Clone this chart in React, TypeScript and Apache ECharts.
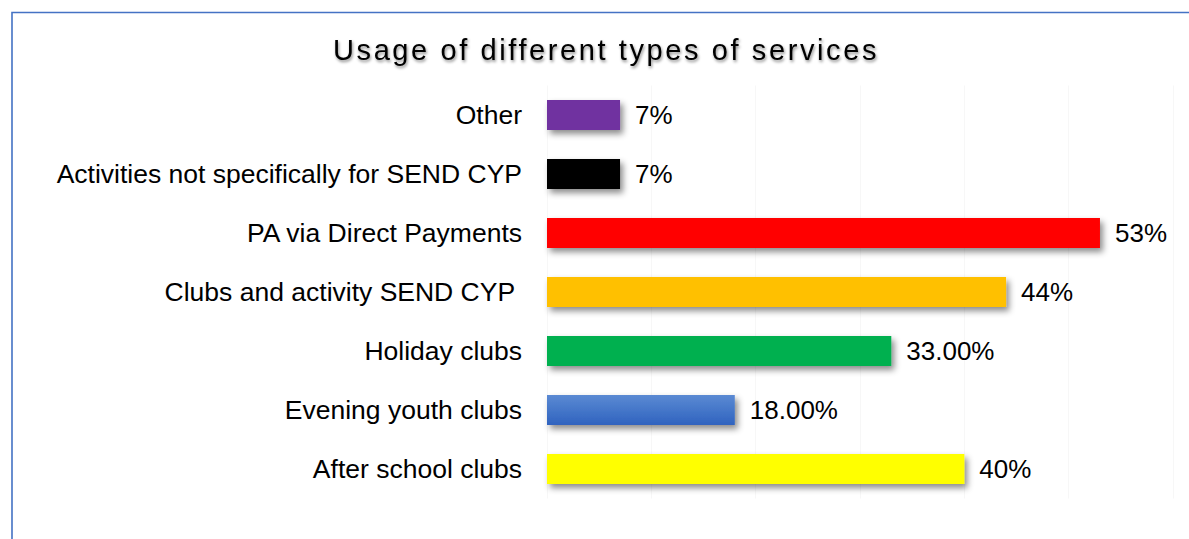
import React, { useEffect, useRef } from "react";
import * as echarts from "echarts";

const TITLE = "Usage of different types of services";
const categories = [
  "Other",
  "Activities not specifically for SEND CYP",
  "PA via Direct Payments",
  "Clubs and activity SEND CYP ",
  "Holiday clubs",
  "Evening youth clubs",
  "After school clubs",
];
const values = [7, 7, 53, 44, 33, 18, 40];
const valueLabels = ["7%", "7%", "53%", "44%", "33.00%", "18.00%", "40%"];
const barColors: any[] = [
  "#7030A0",
  "#000000",
  "#FF0000",
  "#FFC000",
  "#00B050",
  new echarts.graphic.LinearGradient(0, 0, 0, 1, [
    { offset: 0, color: "#5b8ad3" },
    { offset: 1, color: "#2f63bf" },
  ]),
  "#FFFF00",
];
const axisMax = 60;
const axisStep = 10;

export default function App() {
  const ref = useRef<HTMLDivElement>(null);
  useEffect(() => {
    if (!ref.current) return;
    const chart = echarts.init(ref.current, undefined, { renderer: "svg" });
    const font = "'Liberation Sans', Arial, sans-serif";
    chart.setOption({
      animation: false,
      backgroundColor: "#ffffff",
      title: {
        text: TITLE,
        left: 333,
        top: 35,
        padding: 0,
        textStyle: {
          fontFamily: font,
          fontSize: 29,
          fontWeight: "normal",
          color: "#000000",
          textShadowColor: "rgba(0,0,0,0.45)",
          textShadowBlur: 3,
          textShadowOffsetX: 1,
          textShadowOffsetY: 2,
        },
      },
      graphic: [
        {
          type: "rect",
          shape: { x: 12, y: 12.5, width: 1300, height: 700 },
          style: { fill: "none", stroke: "#4472C4", lineWidth: 1.6 },
          silent: true,
        },
      ],
      grid: { left: 547, right: 16, top: 85.5, bottom: 40.5, containLabel: false },
      xAxis: {
        type: "value",
        min: 0,
        max: axisMax,
        interval: axisStep,
        axisLabel: { show: false },
        axisLine: { show: false },
        axisTick: { show: false },
        splitLine: { show: true, lineStyle: { color: "#f7f7f7", width: 1 } },
      },
      yAxis: {
        type: "category",
        inverse: true,
        data: categories,
        axisLine: { show: false },
        axisTick: { show: false },
        axisLabel: {
          fontFamily: font,
          fontSize: 26.5,
          color: "#000000",
          margin: 25,
        },
      },
      series: [
        {
          type: "bar",
          barWidth: 30,
          data: values.map((v, i) => ({
            value: v,
            itemStyle: {
              color: barColors[i],
              shadowColor: "rgba(0,0,0,0.45)",
              shadowBlur: 6,
              shadowOffsetX: 3,
              shadowOffsetY: 4,
            },
          })),
          label: {
            show: true,
            position: "right",
            distance: 15,
            fontFamily: font,
            fontSize: 26,
            color: "#000000",
            formatter: (p: any) => valueLabels[p.dataIndex],
          },
        },
      ],
    });
    const applySpacing = () => {
      const texts = ref.current?.querySelectorAll("text") || [];
      texts.forEach((t: any) => {
        if (t.textContent === TITLE) t.setAttribute("letter-spacing", "2.6px");
      });
    };
    applySpacing();
    chart.on("finished", applySpacing);
    const timer = setTimeout(applySpacing, 50);
    return () => {
      clearTimeout(timer);
      chart.dispose();
    };
  }, []);
  return (
    <div
      ref={ref}
      style={{ position: "fixed", left: 0, top: 0, width: 1189, height: 539 }}
    />
  );
}
